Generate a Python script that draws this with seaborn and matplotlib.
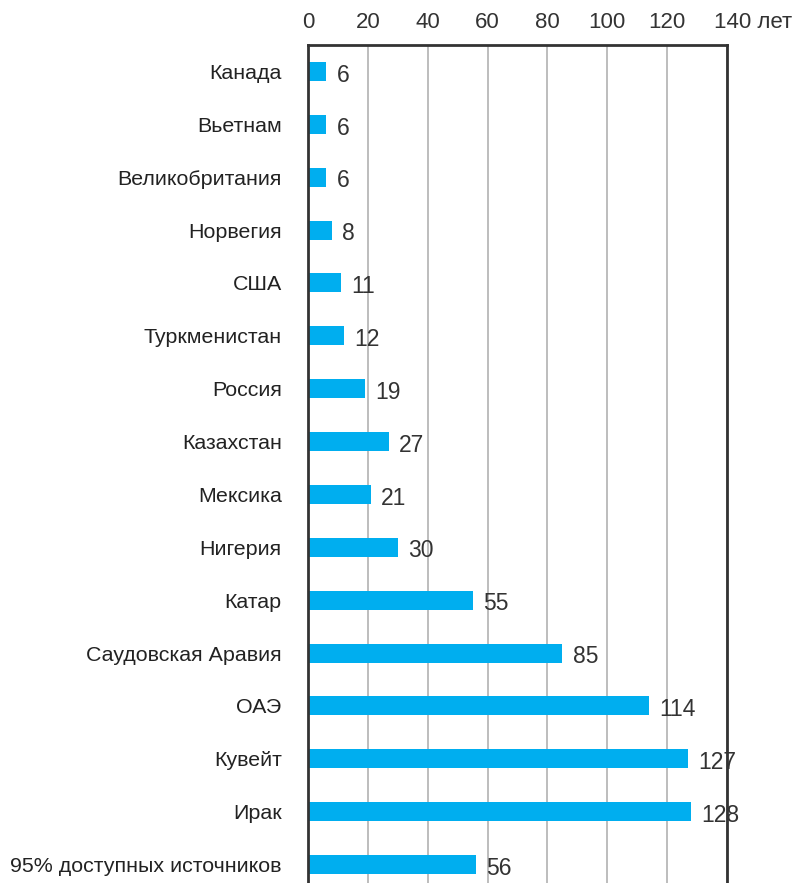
import matplotlib
matplotlib.use("Agg")
import matplotlib.pyplot as plt
import seaborn as sns
import pandas as pd

countries = ['Канада', 'Вьетнам', 'Великобритания', 'Норвегия', 'США', 'Туркменистан',
             'Россия', 'Казахстан', 'Мексика', 'Нигерия', 'Катар', 'Саудовская Аравия',
             'ОАЭ', 'Кувейт', 'Ирак', '95% доступных источников']
years = [6, 6, 6, 8, 11, 12, 19, 27, 21, 30, 55, 85, 114, 127, 128, 56]
tick_values = [0, 20, 40, 60, 80, 100, 120, 140]
tick_labels = ['0', '20', '40', '60', '80', '100', '120', '140 лет']

sns.set_style("white")
plt.rcParams['font.family'] = ['Liberation Sans', 'DejaVu Sans']

df = pd.DataFrame({'country': countries, 'years': years})

fig = plt.figure(figsize=(7.97, 8.83), dpi=100)
ax = fig.add_axes([0.3865, -0.009, 0.5255, 0.958])

sns.barplot(data=df, y='country', x='years', orient='h', color='#00AEEF',
            saturation=1, width=0.36, linewidth=0, edgecolor='none', ax=ax)
ax.set_axisbelow(True)

ax.set_xlim(0, 140)
ax.set_ylim(len(countries) - 0.5, -0.5)
ax.set_xlabel('')
ax.set_ylabel('')

ax.xaxis.tick_top()
ax.set_xticks(tick_values)
ax.set_xticklabels(tick_labels[:-1] + [''])
ax.annotate(tick_labels[-1], xy=(140, 1), xycoords=('data', 'axes fraction'),
            xytext=(-9, 9), textcoords='offset points', ha='left', va='bottom',
            fontsize=16, color='#333333')
ax.tick_params(axis='x', length=0, pad=9, labelsize=16, labelcolor='#333333')
ax.tick_params(axis='y', length=0, pad=19, labelsize=15.4, labelcolor='#222222')

ax.grid(axis='x', color='#bdbdbd', linewidth=1.4)
ax.grid(axis='y', visible=False)
for s in ax.spines.values():
    s.set_visible(True)
    s.set_color('#333333')
    s.set_linewidth(2)

for i, v in enumerate(years):
    ax.text(v + 3.5, i + 0.07, str(v), va='center', ha='left', fontsize=16.5,
            color='#333333')

fig.savefig('out.png', dpi=100)
